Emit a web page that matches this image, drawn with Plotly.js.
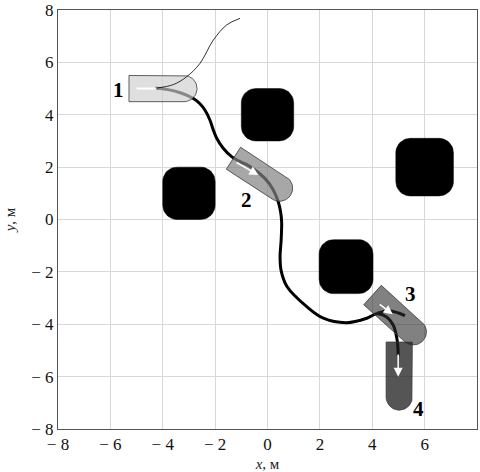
<!DOCTYPE html>
<html>
<head>
<meta charset="utf-8">
<script src="https://cdn.plot.ly/plotly-3.0.1.min.js"></script>
<style>html,body{margin:0;padding:0;background:#fff;}</style>
</head>
<body>
<div id="chart" style="width:480px;height:472px;"></div>
<script>
// ---- data ----
// obstacles: centre x, centre y, side length
const obsX = [-3, 0, 6.0, 3.0];
const obsY = [1, 4, 2.0, -1.8];
const obsSide = [2.0, 2.0, 2.2, 2.06];
const obsCorner = 0.55;

// robot poses: rear-centre x, y, heading (deg)
const robotX = [-5.29, -1.30, 4.01, 5.03];
const robotY = [5.0, 2.34, -2.885, -4.68];
const robotHeading = [0, -33, -42, -90];
const robotFill = ['rgba(207,207,207,0.66)', 'rgba(130,130,130,0.7)', 'rgba(45,45,45,0.6)', 'rgba(28,28,28,0.75)'];
const robotLabels = ['1', '2', '3', '4'];
const labelX = [-5.7, -0.8, 5.45, 5.78];
const labelY = [4.95, 0.75, -2.85, -7.25];
const robotLen = 2.1, robotHalfW = 0.5;

// travelled trajectory
const pathX = [-4.3, -3.8, -3.3, -2.83, -2.58, -2.39, -2.2, -2.07, -1.94, -1.69, -1.37, -1.05, -0.73, -0.1, 0.22, 0.41, 0.50, 0.54, 0.52, 0.48, 0.52, 0.75, 1.5, 2.13, 3.02, 3.79, 4.17, 4.55, 4.8, 4.95, 4.99];
const pathY = [5.02, 4.96, 4.83, 4.62, 4.42, 4.18, 3.8, 3.42, 3.1, 2.72, 2.4, 2.21, 2.06, 1.57, 1.13, 0.68, 0.3, -0.1, -0.8, -1.42, -1.95, -2.57, -3.33, -3.77, -3.94, -3.77, -3.6, -3.72, -4.03, -4.6, -5.2];
// branch at robot 3
const branchX = [4.2, 4.7, 5.25];
const branchY = [-3.58, -3.49, -3.67];
// planned (thin) trajectory from robot 1
const planX = [-4.23, -3.6, -3.09, -2.58, -2.07, -1.56, -1.05];
const planY = [5.02, 5.15, 5.45, 5.96, 6.85, 7.43, 7.68];

// heading arrows (tail -> head)
const arrTailX = [-1.24, 4.23, 4.99];
const arrTailY = [2.21, -3.2, -5.1];
const arrHeadX = [-0.35, 4.78, 4.99];
const arrHeadY = [1.70, -3.62, -6.0];
// robot-1 heading stroke
const r1ArrowX = [-5.0, -4.25];
const r1ArrowY = [5.0, 5.0];

const tickVals = [-8, -6, -4, -2, 0, 2, 4, 6, 8];
const tickText = ['\u2212 8', '\u2212 6', '\u2212 4', '\u2212 2', '0', '2', '4', '6', '8'];

// ---- geometry helpers ----
function roundedSquare(cx, cy, s, r) {
  const h = s / 2, xs = [], ys = [];
  const corners = [[h - r, h - r, 0], [-(h - r), h - r, 90], [-(h - r), -(h - r), 180], [h - r, -(h - r), 270]];
  corners.forEach(([ox, oy, a0]) => {
    for (let i = 0; i <= 10; i++) {
      const a = (a0 + 9 * i) * Math.PI / 180;
      xs.push(cx + ox + r * Math.cos(a));
      ys.push(cy + oy + r * Math.sin(a));
    }
  });
  xs.push(xs[0]); ys.push(ys[0]);
  return {x: xs, y: ys};
}
function robotShape(x0, y0, hd) {
  const h = hd * Math.PI / 180;
  const ux = Math.cos(h), uy = Math.sin(h), nx = -uy, ny = ux;
  const xs = [], ys = [];
  xs.push(x0 + nx * robotHalfW); ys.push(y0 + ny * robotHalfW);
  const cx = x0 + ux * robotLen, cy = y0 + uy * robotLen;
  for (let i = 0; i <= 36; i++) {
    const a = h + Math.PI / 2 - Math.PI * i / 36;
    xs.push(cx + robotHalfW * Math.cos(a)); ys.push(cy + robotHalfW * Math.sin(a));
  }
  xs.push(x0 - nx * robotHalfW); ys.push(y0 - ny * robotHalfW);
  xs.push(xs[0]); ys.push(ys[0]);
  return {x: xs, y: ys};
}

const traces = [];
obsX.forEach((cx, i) => {
  const p = roundedSquare(cx, obsY[i], obsSide[i], obsCorner);
  traces.push({type: 'scatter', mode: 'lines', x: p.x, y: p.y, fill: 'toself',
    fillcolor: '#000', line: {color: '#000', width: 0.5}, hoverinfo: 'skip', showlegend: false});
});
traces.push({type: 'scatter', mode: 'lines', x: pathX, y: pathY,
  line: {color: '#000', width: 3, shape: 'spline', smoothing: 1}, hoverinfo: 'skip', showlegend: false});
traces.push({type: 'scatter', mode: 'lines', x: branchX, y: branchY,
  line: {color: '#000', width: 3, shape: 'spline', smoothing: 1}, hoverinfo: 'skip', showlegend: false});
robotX.forEach((x0, i) => {
  const p = robotShape(x0, robotY[i], robotHeading[i]);
  traces.push({type: 'scatter', mode: 'lines', x: p.x, y: p.y, fill: 'toself',
    fillcolor: robotFill[i], line: {color: '#3a3a3a', width: 0.8}, hoverinfo: 'skip', showlegend: false});
});
traces.push({type: 'scatter', mode: 'lines', x: planX, y: planY,
  line: {color: '#000', width: 0.8, shape: 'spline', smoothing: 1}, hoverinfo: 'skip', showlegend: false});
traces.push({type: 'scatter', mode: 'lines', x: r1ArrowX, y: r1ArrowY,
  line: {color: '#fff', width: 2}, hoverinfo: 'skip', showlegend: false});

const annotations = [];
arrTailX.forEach((tx, i) => {
  annotations.push({x: arrHeadX[i], y: arrHeadY[i], ax: tx, ay: arrTailY[i], xref: 'x', yref: 'y',
    axref: 'x', ayref: 'y', text: '', showarrow: true, arrowhead: 2, arrowsize: 1.2,
    arrowwidth: 1.5, arrowcolor: '#fff', standoff: 0, startstandoff: 0});
});
robotLabels.forEach((t, i) => {
  annotations.push({x: labelX[i], y: labelY[i], xref: 'x', yref: 'y', text: '<b>' + t + '</b>',
    showarrow: false, font: {family: 'Liberation Serif, serif', size: 21, color: '#000'}});
});

const axisCommon = {
  range: [-8, 8], tickvals: tickVals, ticktext: tickText, showgrid: true,
  gridcolor: '#d8d8d8', gridwidth: 1, zeroline: false, showline: true, mirror: true,
  linecolor: '#555', linewidth: 1, ticks: '', fixedrange: true,
  tickfont: {family: 'Liberation Serif, serif', size: 17, color: '#111'}
};
const layout = {
  width: 480, height: 472,
  margin: {l: 58, r: 3, t: 10, b: 43},
  paper_bgcolor: '#fff', plot_bgcolor: '#fff',
  showlegend: false,
  xaxis: Object.assign({}, axisCommon, {title: {text: '<i>x</i>, м', standoff: 6,
    font: {family: 'Liberation Serif, serif', size: 15, color: '#222'}}}),
  yaxis: Object.assign({}, axisCommon, {title: {text: '<i>y</i>, м', standoff: 12,
    font: {family: 'Liberation Serif, serif', size: 15, color: '#222'}}}),
  annotations: annotations
};
Plotly.newPlot('chart', traces, layout, {staticPlot: true, displayModeBar: false});
</script>
</body>
</html>
